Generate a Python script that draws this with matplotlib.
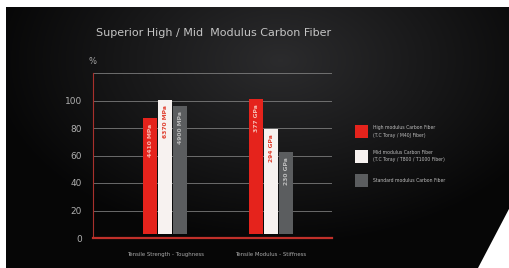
import numpy as np
import matplotlib
matplotlib.use('Agg')
import matplotlib.pyplot as plt
from matplotlib.patches import Polygon, Rectangle

plt.rcParams['font.family'] = ['Liberation Sans Narrow', 'DejaVu Sans']

# data
groups = ['Tensile Strength - Toughness', 'Tensile Modulus - Stiffness']
series = ['High modulus Carbon Fiber', 'Mid modulus Carbon Fiber', 'Standard modulus Carbon Fiber']
legend_sub = ['(T.C Toray / M40J Fiber)', '(T.C Toray / T800 / T1000 Fiber)', '']
values = [[87, 100.5, 96], [101, 79.5, 62.5]]
bar_text = [['4410 MPa', '6370 MPa', '4900 MPa'], ['377 GPa', '294 GPa', '230 GPa']]
yticks = [0, 20, 40, 60, 80, 100]
colors = ['#e5231c', '#f7f2f0', '#5b5d5f']
text_colors = ['#f6bcb2', '#e04030', '#bdbdbd']

W, H = 510, 268
fig = plt.figure(figsize=(W / 100, H / 100), dpi=100, facecolor='white')

# dark photo-like background, white border on the left/top and a cut corner
bg = fig.add_axes([0, 0, 1, 1])
bg.set_xlim(0, W)
bg.set_ylim(H, 0)
bg.axis('off')
yy, xx = np.mgrid[0:H, 0:W]
d = np.sqrt(((xx - 280) / 300.0) ** 2 + ((yy - 60) / 190.0) ** 2)
lev = np.clip(0.17 - 0.15 * d, 0.025, 0.17)
img = np.dstack([lev, lev, lev * 1.04])
im = bg.imshow(np.clip(img, 0, 1), extent=(0, W, H, 0), aspect='auto', zorder=0)
shape = Polygon([(6, 7), (W, 7), (W, 207), (478, H), (6, H)], closed=True,
                transform=bg.transData, facecolor='none', edgecolor='none')
bg.add_patch(shape)
im.set_clip_path(shape)

# main chart axes
ax = fig.add_axes([93 / W, 1 - 238 / H, (332 - 93) / W, (238 - 73) / H])
ax.set_facecolor('none')
ax.set_xlim(-0.68, 1.575)
ax.set_ylim(0, 120)
ax.set_yticks(yticks)
ax.set_yticklabels([str(t) for t in yticks], fontsize=6.5, color='#b0b0b0')
for t in yticks[1:] + [120]:
    ax.axhline(t, color='#8a8a8a', lw=0.7, alpha=0.75, zorder=1)
for s in ['top', 'right']:
    ax.spines[s].set_visible(False)
ax.spines['left'].set_color('#a8302c')
ax.spines['left'].set_linewidth(0.8)
ax.spines['bottom'].set_color('#c0302a')
ax.spines['bottom'].set_linewidth(1.6)
ax.tick_params(length=0, pad=8)

width = 0.142
x = np.arange(len(groups))
for i in range(len(series)):
    h = [values[g][i] for g in range(len(groups))]
    xs = x + (i - 1) * width
    ax.bar(xs, [v - 3 for v in h], width=width * 0.97, bottom=3, color=colors[i], zorder=2)
    for g in range(len(groups)):
        ax.text(xs[g], h[g] - 4, bar_text[g][i], rotation=90, ha='center', va='top',
                fontsize=4.3, fontweight='bold', color=text_colors[i], zorder=3)

ax.set_xticks(x)
ax.set_xticklabels(groups, fontsize=3.9, color='#a8a8a8')
ax.tick_params(axis='x', pad=10)

fig.text(93 / W, 1 - 62 / H, '%', fontsize=6, color='#a8a8a8', ha='center', va='center')
fig.text(214 / W, 1 - 33 / H, 'Superior High / Mid  Modulus Carbon Fiber', fontsize=8,
         color='#c4c4c4', ha='center', va='center')

# legend
for i in range(len(series)):
    y0 = 125 + i * 24.5
    bg.add_patch(Rectangle((355, y0), 13, 13, facecolor=colors[i], edgecolor='none'))
    label = series[i] if not legend_sub[i] else series[i] + '\n' + legend_sub[i]
    bg.text(373, y0 + 6.5, label, fontsize=3.3, color='#bdbdbd', va='center', ha='left',
            linespacing=1.7)

fig.savefig('out.png', dpi=100, facecolor='white')
